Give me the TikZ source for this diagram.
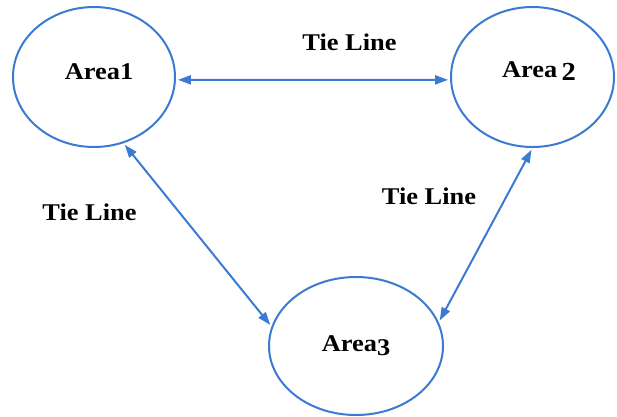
\documentclass[tikz,border=0pt]{standalone}
\usepackage{fontspec}
\setmainfont{Liberation Serif}
\usetikzlibrary{shapes.geometric,arrows.meta}
\definecolor{tieblue}{RGB}{58,122,210}
\tikzset{
  area/.style={ellipse, draw=tieblue, line width=2pt, inner sep=0pt},
  tie/.style={draw=tieblue, line width=2pt, {Triangle[length=13pt,width=9pt]}-{Triangle[length=13pt,width=9pt]}, shorten <=2pt, shorten >=2pt},
  lbl/.style={font=\fontsize{24}{28}\selectfont\bfseries, inner sep=0pt, anchor=base, xscale=1.1}
}
\begin{document}
\begin{tikzpicture}[x=1pt,y=-1pt]
  \useasboundingbox (0,0) rectangle (617,416);
  % the three control areas
  \node[area, minimum width=162pt, minimum height=140pt] (a1) at (94,77) {};
  \node[area, minimum width=163pt, minimum height=140pt] (a2) at (532.5,77) {};
  \node[area, minimum width=174pt, minimum height=138pt] (a3) at (356,346) {};
  \node[lbl] (t1) at (99,79) {Area1};
  \node[lbl] (t2) at (539,77) {Area\,\raisebox{-3pt}{\fontsize{26}{28}\selectfont 2}};
  \node[lbl] (t3) at (356,351) {Area\raisebox{-4pt}{3}};
  % tie lines between areas
  \draw[tie] (a1.-2.7) -- (a2.182.7);
  \draw[tie] (a1.-66.7) -- (a3.167.8);
  \draw[tie] (a2.-90.4) -- (a3.16.1);
  \node[lbl] (l12) at (349.5,50) {Tie Line};
  \node[lbl] (l13) at (89.5,220) {Tie Line};
  \node[lbl] (l23) at (429,204) {Tie Line};
\end{tikzpicture}
\end{document}
